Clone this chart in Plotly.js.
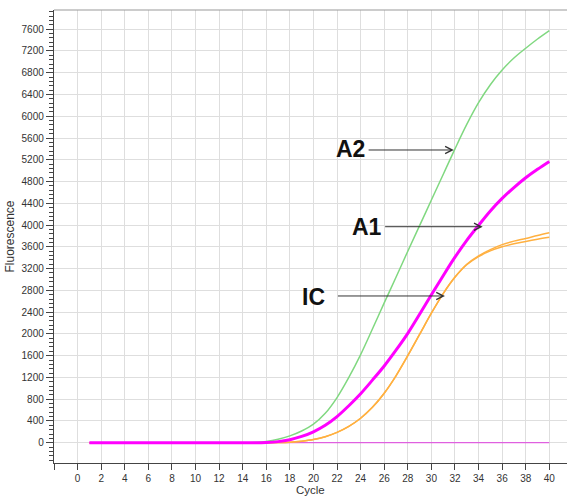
<!DOCTYPE html>
<html>
<head>
<meta charset="utf-8">
<script src="https://cdn.plot.ly/plotly-3.0.1.min.js"></script>
<style>html,body{margin:0;padding:0;background:#fff;}#chart{width:567px;height:496px;}</style>
</head>
<body>
<div id="chart"></div>
<script>
const cycles = [1,2,3,4,5,6,7,8,9,10,11,12,13,14,15,16,17,18,19,20,21,22,23,24,25,26,27,28,29,30,31,32,33,34,35,36,37,38,39,40];

const a2Values = [0,0,0,0,0,0,0,0,0,0,0,0,0,0,5,22,62,125,215,340,540,830,1200,1620,2090,2570,3040,3520,3990,4460,4930,5400,5850,6250,6580,6850,7070,7250,7420,7575];
const a1Values = [0,0,0,0,0,0,0,0,0,0,0,0,0,0,0,5,20,55,115,200,320,480,680,900,1150,1410,1700,2010,2360,2720,3070,3410,3720,3995,4260,4490,4690,4870,5025,5170];
const ic1Values = [0,0,0,0,0,0,0,0,0,0,0,0,0,0,0,0,3,10,28,58,110,190,300,450,650,910,1230,1600,1990,2380,2740,3040,3270,3420,3525,3600,3655,3700,3740,3775];
const ic2Values = [0,0,0,0,0,0,0,0,0,0,0,0,0,0,0,0,3,10,28,58,110,190,300,450,650,910,1230,1600,1990,2380,2740,3045,3280,3435,3550,3640,3705,3755,3810,3860];
const ntcValues = [0,0,0,0,0,0,0,0,0,0,0,0,0,0,0,0,0,0,0,0,0,0,0,0,0,0,0,0,0,0,0,0,0,0,0,0,0,0,0,0];

const xTickVals = [-2,0,2,4,6,8,10,12,14,16,18,20,22,24,26,28,30,32,34,36,38,40];
const xTickText = ['','0','2','4','6','8','10','12','14','16','18','20','22','24','26','28','30','32','34','36','38','40'];
const yTickVals = [0,400,800,1200,1600,2000,2400,2800,3200,3600,4000,4400,4800,5200,5600,6000,6400,6800,7200,7600];
const xTitle = 'Cycle';
const yTitle = 'Fluorescence';

// annotation labels and arrows
const labels = ['A2','A1','IC'];
const labelX = [23.15, 24.5, 20.0];
const labelY = [5400, 3956, 2669];
const tailX = [24.55, 25.95, 21.95];
const tailY = [5380, 3970, 2697];
const tipX = [31.9, 34.35, 31.15];
const tipY = [5380, 3970, 2697];

const xRange = [-2, 41.5];
const yRange = [-373, 7953];

const spl = {shape:'spline', smoothing:1};
const traces = [
  {x: cycles, y: ntcValues, mode:'lines', line:{color:'#e040e0', width:1}},
  {x: cycles, y: a2Values, mode:'lines', line:Object.assign({color:'#80d880', width:1.5}, spl)},
  {x: cycles, y: ic1Values, mode:'lines', line:Object.assign({color:'#ffb040', width:1.5}, spl)},
  {x: cycles, y: ic2Values, mode:'lines', line:Object.assign({color:'#ffb040', width:1.5}, spl)},
  {x: cycles, y: a1Values, mode:'lines', line:Object.assign({color:'#ff00ff', width:3}, spl)}
];

const annotations = [];
for (let i = 0; i < labels.length; i++) {
  annotations.push({
    x: labelX[i], y: labelY[i], xref:'x', yref:'y', text: labels[i], showarrow:false,
    font:{family:'Liberation Sans, Arial, sans-serif', size:23, color:'#111', weight:'bold'},
    xanchor:'center', yanchor:'middle'
  });
  annotations.push({
    x: tipX[i], y: tipY[i], xref:'x', yref:'y', ax: tailX[i], ay: tailY[i], axref:'x', ayref:'y',
    text:'', showarrow:true, arrowhead:5, arrowsize:1.4, arrowwidth:1, arrowcolor:'#333', standoff:0, startstandoff:0
  });
}
// x-axis title
annotations.push({
  x: 0.5, y: 0, xref:'paper', yref:'paper', text: xTitle, showarrow:false,
  xanchor:'center', yanchor:'middle', yshift:-27, borderpad:0,
  font:{family:'Liberation Sans, Arial, sans-serif', size:11.5, color:'#333'}
});
// partially visible next tick label at the right edge
annotations.push({
  x: (42 - xRange[0]) / (xRange[1] - xRange[0]), y: 0, xref:'paper', yref:'paper',
  text:'42', showarrow:false, xanchor:'center', yanchor:'top', yshift:-7,
  font:{family:'Liberation Sans, Arial, sans-serif', size:10, color:'#333'}
});

const layout = {
  width:567, height:496,
  margin:{l:54, r:0, t:10, b:33, pad:0, autoexpand:false},
  paper_bgcolor:'#fff', plot_bgcolor:'#fff',
  showlegend:false,
  font:{family:'Liberation Sans, Arial, sans-serif', size:10, color:'#333'},
  xaxis:{
    range:xRange, tickmode:'array', tickvals:xTickVals, ticktext:xTickText,
    showgrid:true, gridcolor:'#dedede', gridwidth:1, zeroline:false,
    showline:true, linecolor:'#444', linewidth:1.2,
    ticks:'outside', ticklen:6, tickcolor:'#444', tickwidth:1,
    tickfont:{size:10, color:'#333'}
  },
  yaxis:{
    range:yRange, tickmode:'array', tickvals:yTickVals,
    showgrid:true, gridcolor:'#dedede', gridwidth:1, zeroline:false,
    showline:true, linecolor:'#444', linewidth:1.2,
    ticks:'outside', ticklen:7, tickcolor:'#444', tickwidth:1,
    tickfont:{size:10, color:'#333'},
    minor:{dtick:80, tick0:0, ticks:'outside', ticklen:4, tickcolor:'#444', showgrid:false},
    title:{text:yTitle, font:{size:12, color:'#333'}, standoff:4}
  },
  shapes:[
    {type:'line', xref:'paper', yref:'paper', x0:0, x1:1, y0:1, y1:1, line:{color:'#999', width:1.2}}
  ],
  annotations: annotations
};

Plotly.newPlot('chart', traces, layout, {staticPlot:true, displayModeBar:false});
</script>
</body>
</html>
